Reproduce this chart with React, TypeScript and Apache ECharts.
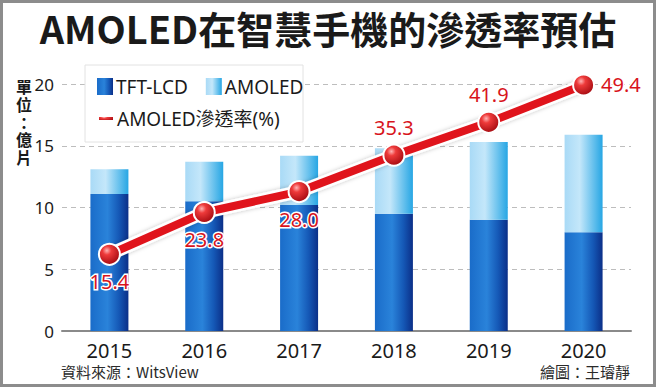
import React, { useEffect, useRef } from "react";
import * as echarts from "echarts";

const years = ["2015", "2016", "2017", "2018", "2019", "2020"];
const tftLcd = [11.1, 10.5, 10.2, 9.5, 9.0, 8.0];
const amoled = [2.0, 3.2, 4.0, 5.3, 6.3, 7.9];
const penetration = [15.4, 23.8, 28.0, 35.3, 41.9, 49.4];
const labelPos = ["bottom", "bottom", "bottom", "top", "top", "right"];
const yTicks = [0, 5, 10, 15, 20];
const unitChars = ["單", "位", "：", "億", "片"];

const FONT = "'Noto Sans', 'Noto Sans CJK TC', sans-serif";
const CJK = "'Noto Sans CJK TC', 'Noto Sans', sans-serif";

export default function App() {
  const ref = useRef<HTMLDivElement>(null);
  useEffect(() => {
    const chart = echarts.init(ref.current!, null, { renderer: "svg" });
    const tftColor = new echarts.graphic.LinearGradient(0, 0, 1, 0, [
      { offset: 0, color: "#1a6cc9" },
      { offset: 0.45, color: "#2a83da" },
      { offset: 0.75, color: "#1558b6" },
      { offset: 1, color: "#0b2f88" },
    ]);
    const amoColor = new echarts.graphic.LinearGradient(0, 0, 1, 0, [
      { offset: 0, color: "#a9daf6" },
      { offset: 0.4, color: "#c4e7fa" },
      { offset: 1, color: "#26a6e4" },
    ]);
    const ballColor = new echarts.graphic.RadialGradient(0.38, 0.32, 0.7, [
      { offset: 0, color: "#ffb3b3" },
      { offset: 0.3, color: "#ee3a3a" },
      { offset: 1, color: "#a40a10" },
    ]);
    const unitTexts = unitChars.map((c, i) => ({
      type: "text",
      x: 24,
      y: 86 + i * 17.8,
      style: {
        text: c,
        font: `bold 16px ${CJK}`,
        fill: "#1a1a1a",
        align: "center",
        verticalAlign: "middle",
      },
    }));
    chart.setOption({
      animation: false,
      backgroundColor: "#ffffff",
      grid: { left: 62, right: 25, top: 84, bottom: 56, containLabel: false },
      legend: [
        {
          data: [
            { name: "TFT-LCD", icon: "rect" },
            { name: "AMOLED", icon: "rect" },
          ],
          left: 92,
          top: 72,
          z: 6,
          itemWidth: 16,
          itemHeight: 17,
          itemGap: 18,
          textStyle: { fontFamily: FONT, fontSize: 19, color: "#1a1a1a", padding: [0, 0, 0, -2] },
          selectedMode: false,
        },
        {
          data: [{ name: "AMOLED滲透率(%)", icon: "rect" }],
          left: 92,
          top: 104,
          z: 6,
          itemWidth: 16,
          itemHeight: 5,
          textStyle: { fontFamily: FONT, fontSize: 19, color: "#1a1a1a", padding: [0, 0, 0, -2] },
          selectedMode: false,
        },
      ],
      xAxis: {
        type: "category",
        data: years,
        boundaryGap: true,
        axisLine: { lineStyle: { color: "#8a8a8a", width: 2 } },
        axisTick: { alignWithLabel: true, length: 6, lineStyle: { color: "#8a8a8a", width: 2 } },
        axisLabel: { fontFamily: FONT, fontSize: 20, color: "#1a1a1a", margin: 9 },
      },
      yAxis: [
        {
          type: "value",
          min: 0,
          max: 20,
          interval: 5,
          axisLine: { show: false },
          axisTick: { show: false },
          axisLabel: {
            fontFamily: FONT,
            fontSize: 17,
            color: "#1a1a1a",
            margin: 8,
            formatter: (v: number) => (yTicks.includes(v) ? String(v) : ""),
          },
          splitLine: { lineStyle: { color: "#bdbdbd", type: [5, 4], width: 1 } },
        },
        { type: "value", min: 0, max: 49.6, show: false, splitLine: { show: false } },
      ],
      graphic: [
        {
          type: "rect",
          z: 3,
          shape: { x: 85, y: 65, width: 218, height: 77 },
          style: { fill: "#ffffff", stroke: "#e2e2e2", lineWidth: 1 },
        },
        {
          type: "text",
          left: "center",
          top: 8,
          style: {
            text: "AMOLED在智慧手機的滲透率預估",
            font: `bold 38px ${CJK}`,
            fill: "#1a1a1a",
          },
        },
        ...unitTexts,
        {
          type: "text",
          x: 61,
          y: 364,
          style: { text: "資料來源：WitsView", font: `15px ${CJK}`, fill: "#2a2a2a" },
        },
        {
          type: "text",
          right: 26,
          top: 364,
          style: { text: "繪圖：王璿靜", font: `15px ${CJK}`, fill: "#2a2a2a" },
        },
        {
          type: "rect",
          z: 100,
          shape: { x: 1.5, y: 1.5, width: 653, height: 384 },
          style: { fill: "none", stroke: "#8c8c8c", lineWidth: 3 },
        },
      ],
      series: [
        {
          name: "TFT-LCD",
          type: "bar",
          stack: "total",
          barWidth: 38,
          data: tftLcd,
          itemStyle: { color: tftColor },
        },
        {
          name: "AMOLED",
          type: "bar",
          stack: "total",
          barWidth: 38,
          data: amoled,
          itemStyle: { color: amoColor },
        },
        {
          name: "outline",
          type: "line",
          yAxisIndex: 1,
          data: penetration,
          symbol: "none",
          silent: true,
          z: 3,
          lineStyle: { color: "#ffffff", width: 13, shadowColor: "rgba(0,0,0,0.25)", shadowBlur: 4 },
        },
        {
          name: "AMOLED滲透率(%)",
          type: "line",
          yAxisIndex: 1,
          z: 4,
          data: penetration.map((v, i) => ({
            value: v,
            label: { position: labelPos[i] },
          })),
          color: "#e0141c",
          lineStyle: { color: "#e0141c", width: 8 },
          symbol: "circle",
          symbolSize: 21,
          itemStyle: { color: ballColor, borderColor: "#ffffff", borderWidth: 2 },
          label: {
            show: true,
            fontFamily: FONT,
            fontSize: 20,
            color: "#d8141c",
            textBorderColor: "#ffffff",
            textBorderWidth: 3,
            distance: 6,
            formatter: (p: any) => Number(p.value).toFixed(1),
          },
        },
      ],
    });
    return () => chart.dispose();
  }, []);
  return (
    <div
      ref={ref}
      style={{ position: "fixed", left: 0, top: 0, width: 656, height: 387 }}
    />
  );
}
